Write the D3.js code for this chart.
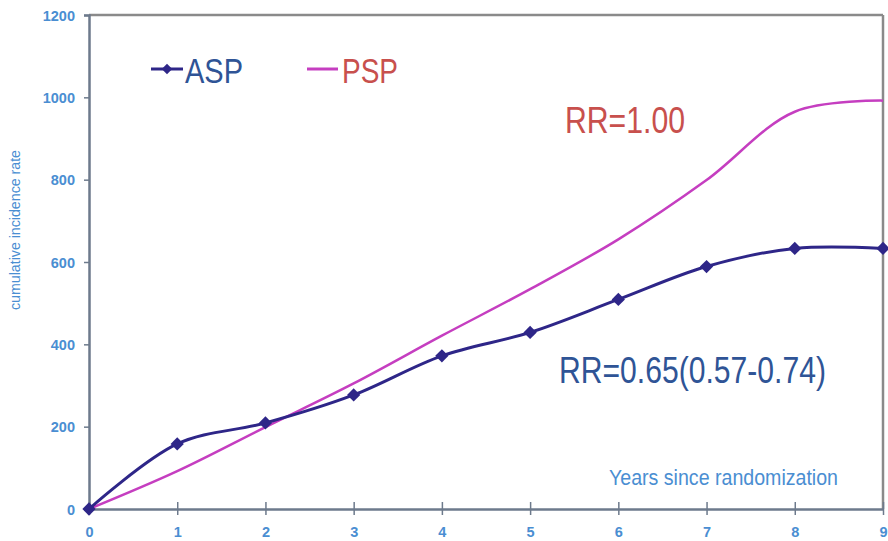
<!DOCTYPE html>
<html><head><meta charset="utf-8">
<script src="https://cdn.jsdelivr.net/npm/d3@7"></script>
<style>html,body{margin:0;padding:0;background:#fff;}svg{display:block;}</style>
</head><body>
<svg id="chart" width="888" height="541"></svg>
<script>
const years = [0,1,2,3,4,5,6,7,8,9];
const aspValues = [0,158,209,277,372,429,509,589,633,633];
const pspValues = [0,92,199,305,421,534,655,799,965,992];
const yTicks = [0,200,400,600,800,1000,1200];
const seriesNames = ["ASP","PSP"];
const rrLabels = ["RR=1.00","RR=0.65(0.57-0.74)"];
const xTitle = "Years since randomization";
const yTitle = "cumulative incidence rate";

const svg = d3.select("#chart");
const x = d3.scaleLinear().domain([0,9]).range([89,883]);
const y = d3.scaleLinear().domain([0,1200]).range([509,15]);
const font = "'Liberation Sans', Arial, sans-serif";
const tickBlue = "#4a8ed2";

// frame top/right
svg.append("line").attr("x1",x(0)).attr("x2",x(9)).attr("y1",y(1200)).attr("y2",y(1200))
  .attr("stroke","#8a8a8a").attr("stroke-width",2.5);
svg.append("line").attr("x1",x(9)).attr("x2",x(9)).attr("y1",y(1200)).attr("y2",y(0))
  .attr("stroke","#8a8a8a").attr("stroke-width",2.5);

// y axis
const yAxis = svg.append("g").attr("transform",`translate(${x(0)},0)`)
  .call(d3.axisLeft(y).tickValues(yTicks).tickSize(5).tickPadding(9).tickFormat(d3.format("d")));
yAxis.select(".domain").attr("stroke","#6d7a8c").attr("stroke-width",2.5);
yAxis.selectAll(".tick line").attr("stroke","#6d7a8c").attr("stroke-width",1.5);
yAxis.selectAll("text").attr("fill",tickBlue).attr("font-family",font).attr("font-size",14.5)
  .attr("font-weight","bold").attr("dy","0.35em");

// x axis
const xAxis = svg.append("g").attr("transform",`translate(0,${y(0)})`)
  .call(d3.axisBottom(x).tickValues(years).tickSizeInner(6).tickSizeOuter(0).tickPadding(12).tickFormat(d3.format("d")));
xAxis.select(".domain").attr("stroke","#6d7a8c").attr("stroke-width",2.5);
xAxis.selectAll(".tick line").attr("stroke","#6d7a8c").attr("stroke-width",1.5).attr("y1",-7);
xAxis.selectAll("text").attr("fill",tickBlue).attr("font-family",font).attr("font-size",14.5).attr("font-weight","bold");

// lines
const line = d3.line().x((d,i)=>x(years[i])).y(d=>y(d)).curve(d3.curveCatmullRom.alpha(0.5));
svg.append("path").datum(pspValues).attr("d",line).attr("fill","none")
  .attr("stroke","#c53ec0").attr("stroke-width",2.5);
svg.append("path").datum(aspValues).attr("d",line).attr("fill","none")
  .attr("stroke","#2e2688").attr("stroke-width",3);
const diamond = d3.symbol().type(d3.symbolSquare).size(88);
svg.selectAll(".mk").data(aspValues).enter().append("path")
  .attr("d",diamond).attr("transform",(d,i)=>`translate(${x(years[i])},${y(d)}) rotate(45)`)
  .attr("fill","#2e2688");

// legend
svg.append("line").attr("x1",151).attr("x2",183).attr("y1",69).attr("y2",69)
  .attr("stroke","#2e2688").attr("stroke-width",3);
svg.append("path").attr("d",d3.symbol().type(d3.symbolSquare).size(55)).attr("transform","translate(167,69) rotate(45)").attr("fill","#2e2688");
svg.append("text").attr("x",185).attr("y",82.5).text(seriesNames[0])
  .attr("font-family",font).attr("font-size",35).attr("fill","#2f5496")
  .attr("textLength",58).attr("lengthAdjust","spacingAndGlyphs");
svg.append("line").attr("x1",307).attr("x2",338).attr("y1",69).attr("y2",69)
  .attr("stroke","#c53ec0").attr("stroke-width",3);
svg.append("text").attr("x",342).attr("y",82.5).text(seriesNames[1])
  .attr("font-family",font).attr("font-size",35).attr("fill","#c8504d")
  .attr("textLength",56).attr("lengthAdjust","spacingAndGlyphs");

// annotations
svg.append("text").attr("x",565).attr("y",133).text(rrLabels[0])
  .attr("font-family",font).attr("font-size",37).attr("fill","#c8504d")
  .attr("textLength",120).attr("lengthAdjust","spacingAndGlyphs");
svg.append("text").attr("x",559).attr("y",383).text(rrLabels[1])
  .attr("font-family",font).attr("font-size",37).attr("fill","#2f5496")
  .attr("textLength",267).attr("lengthAdjust","spacingAndGlyphs");

// axis titles
svg.append("text").attr("x",609).attr("y",485).text(xTitle)
  .attr("font-family",font).attr("font-size",22).attr("fill",tickBlue)
  .attr("textLength",229).attr("lengthAdjust","spacingAndGlyphs");
svg.append("text").attr("transform","translate(20,230) rotate(-90)").attr("text-anchor","middle")
  .text(yTitle).attr("font-family",font).attr("font-size",14).attr("fill",tickBlue)
  .attr("textLength",160).attr("lengthAdjust","spacingAndGlyphs");
</script>
</body></html>
